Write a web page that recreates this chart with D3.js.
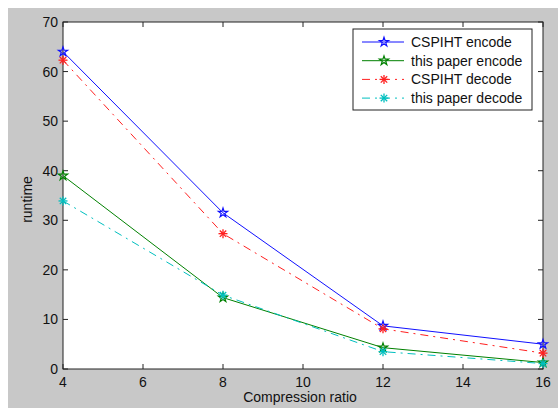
<!DOCTYPE html>
<html>
<head>
<meta charset="utf-8">
<script src="https://cdn.jsdelivr.net/npm/d3@7"></script>
<style>
  html, body { margin: 0; padding: 0; background: #fff; }
  svg { display: block; font-family: "Liberation Sans", Arial, sans-serif; }
</style>
</head>
<body>
<div id="chart"></div>
<script>
const ratios = [4, 8, 12, 16];
const cspihtEncode = [64.0, 31.5, 8.7, 5.0];
const paperEncode = [39.0, 14.4, 4.3, 1.3];
const cspihtDecode = [62.3, 27.3, 8.1, 3.2];
const paperDecode = [33.9, 14.9, 3.5, 1.1];
const xTicks = [4, 6, 8, 10, 12, 14, 16];
const yTicks = [0, 10, 20, 30, 40, 50, 60, 70];
const seriesNames = ['CSPIHT encode', 'this paper encode', 'CSPIHT decode', 'this paper decode'];

const W = 558, H = 408;
const M = { left: 63, right: 15, top: 22, bottom: 39 };

const svg = d3.select('#chart').append('svg').attr('width', W).attr('height', H);
svg.append('rect').attr('x', 8).attr('y', 8).attr('width', W - 8).attr('height', H - 8).attr('fill', '#c8c8c8');

const x = d3.scaleLinear().domain([4, 16]).range([M.left, W - M.right]);
const y = d3.scaleLinear().domain([0, 70]).range([H - M.bottom, M.top]);

svg.append('rect')
  .attr('x', x(4)).attr('y', y(70))
  .attr('width', x(16) - x(4)).attr('height', y(0) - y(70))
  .attr('fill', '#fff');

const tickLen = 5;
const axisColor = '#222';
const g = svg.append('g');
// ticks point inward on all four sides
xTicks.forEach(t => {
  g.append('line').attr('x1', x(t)).attr('x2', x(t)).attr('y1', y(0)).attr('y2', y(0) - tickLen).attr('stroke', axisColor);
  g.append('line').attr('x1', x(t)).attr('x2', x(t)).attr('y1', y(70)).attr('y2', y(70) + tickLen).attr('stroke', axisColor);
  g.append('text').attr('x', x(t)).attr('y', y(0) + 18).attr('text-anchor', 'middle')
    .attr('font-size', 14).attr('fill', '#111').text(t);
});
yTicks.forEach(t => {
  g.append('line').attr('x1', x(4)).attr('x2', x(4) + tickLen).attr('y1', y(t)).attr('y2', y(t)).attr('stroke', axisColor);
  g.append('line').attr('x1', x(16)).attr('x2', x(16) - tickLen).attr('y1', y(t)).attr('y2', y(t)).attr('stroke', axisColor);
  g.append('text').attr('x', x(4) - 5).attr('y', y(t) + 5).attr('text-anchor', 'end')
    .attr('font-size', 14).attr('fill', '#111').text(t);
});
g.append('rect')
  .attr('x', x(4)).attr('y', y(70))
  .attr('width', x(16) - x(4)).attr('height', y(0) - y(70))
  .attr('fill', 'none').attr('stroke', axisColor);

svg.append('text').attr('x', 300).attr('y', 402).attr('text-anchor', 'middle')
  .attr('font-size', 14).attr('fill', '#111').text('Compression ratio');
svg.append('text').attr('transform', `translate(32,${(y(0) + y(70)) / 2 + 4}) rotate(-90)`)
  .attr('text-anchor', 'middle').attr('font-size', 14).attr('fill', '#111').text('runtime');

const star = d3.symbol().type(d3.symbolStar).size(26);
function drawMarker(sel, type, color) {
  if (type === 'star') {
    sel.append('path').attr('d', star()).attr('fill', 'none').attr('stroke', color).attr('stroke-width', 1.2);
  } else {
    const r = 4.5;
    [[-r, 0, r, 0], [0, -r, 0, r], [-3.2, -3.2, 3.2, 3.2], [-3.2, 3.2, 3.2, -3.2]].forEach(l => {
      sel.append('line').attr('x1', l[0]).attr('y1', l[1]).attr('x2', l[2]).attr('y2', l[3])
        .attr('stroke', color).attr('stroke-width', 1.3);
    });
  }
}

const series = [
  { name: seriesNames[0], values: cspihtEncode, color: '#1010ff', dash: null, marker: 'star' },
  { name: seriesNames[1], values: paperEncode, color: '#008000', dash: null, marker: 'star' },
  { name: seriesNames[2], values: cspihtDecode, color: '#ff2020', dash: '8,5,2,5', marker: 'ast' },
  { name: seriesNames[3], values: paperDecode, color: '#00bfbf', dash: '8,5,2,5', marker: 'ast' }
];

const line = d3.line().x((d, i) => x(ratios[i])).y(d => y(d));
series.forEach(s => {
  svg.append('path').attr('d', line(s.values)).attr('fill', 'none')
    .attr('stroke', s.color).attr('stroke-width', 1)
    .attr('stroke-dasharray', s.dash);
  s.values.forEach((v, i) => {
    const mg = svg.append('g').attr('transform', `translate(${x(ratios[i])},${y(v)})`);
    drawMarker(mg, s.marker, s.color);
  });
});

// legend
const lg = svg.append('g');
lg.append('rect').attr('x', 353).attr('y', 29).attr('width', 179).attr('height', 81)
  .attr('fill', '#fff').attr('stroke', '#222');
series.forEach((s, i) => {
  const ly = 42 + i * 18.7;
  lg.append('line').attr('x1', 362).attr('x2', 404).attr('y1', ly).attr('y2', ly)
    .attr('stroke', s.color).attr('stroke-dasharray', s.dash ? '8,5,2,5' : null);
  drawMarker(lg.append('g').attr('transform', `translate(384,${ly})`), s.marker, s.color);
  lg.append('text').attr('x', 411).attr('y', ly + 5).attr('font-size', 14).attr('fill', '#111').text(s.name);
});
</script>
</body>
</html>
